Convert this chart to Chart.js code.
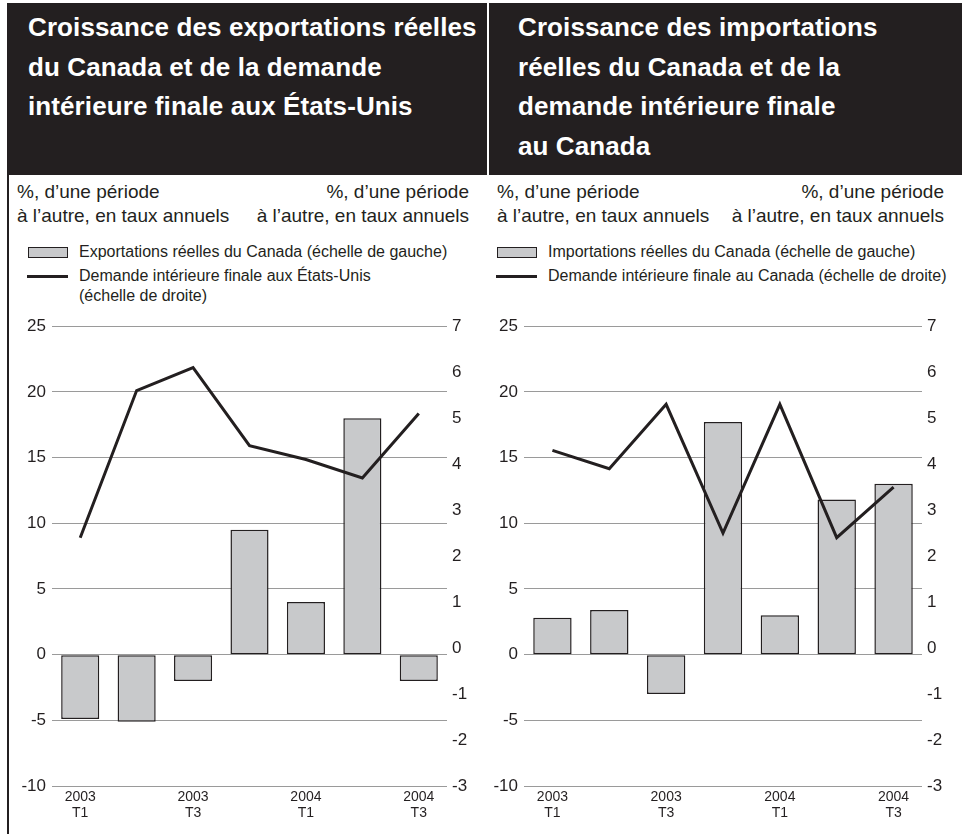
<!DOCTYPE html>
<html lang="fr">
<head>
<meta charset="utf-8">
<title>Exportations, importations et demande intérieure finale</title>
<script src="https://cdn.jsdelivr.net/npm/chart.js@4/dist/chart.umd.min.js"></script>
<style>
  html, body { margin: 0; padding: 0; background: #ffffff; }
  body { width: 962px; height: 834px; position: relative; overflow: hidden;
         font-family: "Liberation Sans", Arial, Helvetica, sans-serif; color: #231f20; }
  .band { position: absolute; top: 3px; height: 172px; background: #231f20; }
  .rule { position: absolute; left: 7px; top: 3px; width: 2px; height: 831px; background: #231f20; }
  .title { position: absolute; top: 8px; color: #ffffff; font-weight: bold; font-size: 26px;
           letter-spacing: 0.1px; line-height: 39.5px; white-space: nowrap; }
  .unit { position: absolute; top: 180px; font-size: 19px; line-height: 23.5px; white-space: nowrap; }
  .unit.right { text-align: right; }
  .legend-text { position: absolute; font-size: 16px; line-height: 20px; white-space: pre-line; }
  .swatch { position: absolute; box-sizing: border-box; }
  canvas { position: absolute; top: 310px; }
</style>
</head>
<body>
<div class="band" style="left:7px; width:479.5px;"></div>
<div class="band" style="left:489px; width:473px;"></div>
<div class="rule"></div>

<div class="title" id="title-left" style="left:28px;"></div>
<div class="title" id="title-right" style="left:518px;"></div>

<div class="unit" style="left:17px;">%, d’une période<br>à l’autre, en taux annuels</div>
<div class="unit right" style="right:493px;">%, d’une période<br>à l’autre, en taux annuels</div>
<div class="unit" style="left:497px;">%, d’une période<br>à l’autre, en taux annuels</div>
<div class="unit right" style="right:18px;">%, d’une période<br>à l’autre, en taux annuels</div>

<div id="legend-left"></div>
<div id="legend-right"></div>

<canvas id="chart-left" width="472" height="524" style="left:9px;"></canvas>
<canvas id="chart-right" width="473" height="524" style="left:489px;"></canvas>

<script>
// Quarters shown on the horizontal axis
const categories = ['2003 T1', '2003 T2', '2003 T3', '2003 T4', '2004 T1', '2004 T2', '2004 T3'];

// Left panel: Canadian real exports (left scale) and U.S. final domestic demand (right scale)
const exportsCanada = [-4.9, -5.1, -2.0, 9.5, 4.0, 18.0, -2.0];
const demandUS = [2.4, 5.6, 6.1, 4.4, 4.1, 3.7, 5.1];

// Right panel: Canadian real imports (left scale) and Canadian final domestic demand (right scale)
const importsCanada = [2.8, 3.4, -3.0, 17.7, 3.0, 11.8, 13.0];
const demandCanada = [4.3, 3.9, 5.3, 2.5, 5.3, 2.4, 3.5];

// Axis tick values
const leftScaleTicks = [-10, -5, 0, 5, 10, 15, 20, 25];
const rightScaleTicks = [-3, -2, -1, 0, 1, 2, 3, 4, 5, 6, 7];

// Titles and legend labels
const titleLeft = ['Croissance des exportations réelles', 'du Canada et de la demande', 'intérieure finale aux États-Unis'];
const titleRight = ['Croissance des importations', 'réelles du Canada et de la', 'demande intérieure finale', 'au Canada'];
const barLabelLeft = 'Exportations réelles du Canada (échelle de gauche)';
const lineLabelLeft = 'Demande intérieure finale aux États-Unis\n(échelle de droite)';
const barLabelRight = 'Importations réelles du Canada (échelle de gauche)';
const lineLabelRight = 'Demande intérieure finale au Canada (échelle de droite)';

const INK = '#231f20';
const BAR_FILL = '#c8c9cb';
const GRID = '#9a9a9a';
const FONT = '"Liberation Sans", Arial, Helvetica, sans-serif';

document.getElementById('title-left').innerHTML = titleLeft.join('<br>');
document.getElementById('title-right').innerHTML = titleRight.join('<br>');

function buildLegend(containerId, x, barLabel, lineLabel) {
  const box = document.getElementById(containerId);
  const sw = document.createElement('div');
  sw.className = 'swatch';
  Object.assign(sw.style, { left: x + 'px', top: '246.5px', width: '40px', height: '11px',
    background: BAR_FILL, border: '1.5px solid ' + INK });
  const t1 = document.createElement('div');
  t1.className = 'legend-text';
  Object.assign(t1.style, { left: (x + 51) + 'px', top: '242px' });
  t1.textContent = barLabel;
  const ln = document.createElement('div');
  ln.className = 'swatch';
  Object.assign(ln.style, { left: (x - 1) + 'px', top: '275px', width: '41px', height: '2.5px', background: INK });
  const t2 = document.createElement('div');
  t2.className = 'legend-text';
  Object.assign(t2.style, { left: (x + 51) + 'px', top: '266px' });
  t2.textContent = lineLabel;
  box.append(sw, t1, ln, t2);
}
buildLegend('legend-left', 28, barLabelLeft, lineLabelLeft);
buildLegend('legend-right', 497, barLabelRight, lineLabelRight);

function makeChart(canvasId, bars, line, leftWidth, rightWidth) {
  const step = (arr) => arr[1] - arr[0];
  return new Chart(document.getElementById(canvasId), {
    type: 'bar',
    data: {
      labels: categories,
      datasets: [
        {
          type: 'line',
          data: line,
          yAxisID: 'y1',
          borderColor: INK,
          borderWidth: 3,
          pointRadius: 0,
          tension: 0,
          fill: false,
          order: 0
        },
        {
          type: 'bar',
          data: bars,
          yAxisID: 'y',
          backgroundColor: BAR_FILL,
          borderColor: INK,
          borderWidth: 1.5,
          borderSkipped: false,
          barPercentage: 0.675,
          categoryPercentage: 1,
          order: 1
        }
      ]
    },
    options: {
      responsive: false,
      animation: false,
      events: [],
      layout: { padding: { top: 16, left: 0, right: 0, bottom: 0 } },
      plugins: { legend: { display: false }, tooltip: { enabled: false } },
      scales: {
        x: {
          grid: { display: false, drawTicks: false },
          border: { display: false },
          ticks: {
            autoSkip: false,
            maxRotation: 0,
            padding: 3,
            color: INK,
            font: { family: FONT, size: 14, lineHeight: 16 / 14 },
            callback: (value, index) => index % 2 === 0 ? categories[index].split(' ') : ''
          },
          afterFit: (scale) => { scale.height = 48; }
        },
        y: {
          position: 'left',
          min: leftScaleTicks[0],
          max: leftScaleTicks[leftScaleTicks.length - 1],
          grid: { color: GRID, lineWidth: 1, drawTicks: false },
          border: { display: false },
          ticks: {
            stepSize: step(leftScaleTicks),
            padding: 6,
            color: INK,
            font: { family: FONT, size: 17 }
          },
          afterFit: (scale) => { scale.width = leftWidth; }
        },
        y1: {
          position: 'right',
          min: rightScaleTicks[0],
          max: rightScaleTicks[rightScaleTicks.length - 1],
          grid: { display: false, drawTicks: false },
          border: { display: false },
          ticks: {
            stepSize: step(rightScaleTicks),
            padding: 5,
            color: INK,
            font: { family: FONT, size: 17 }
          },
          afterFit: (scale) => { scale.width = rightWidth; }
        }
      }
    }
  });
}

makeChart('chart-left', exportsCanada, demandUS, 43, 34);
makeChart('chart-right', importsCanada, demandCanada, 35, 40);
</script>
</body>
</html>
